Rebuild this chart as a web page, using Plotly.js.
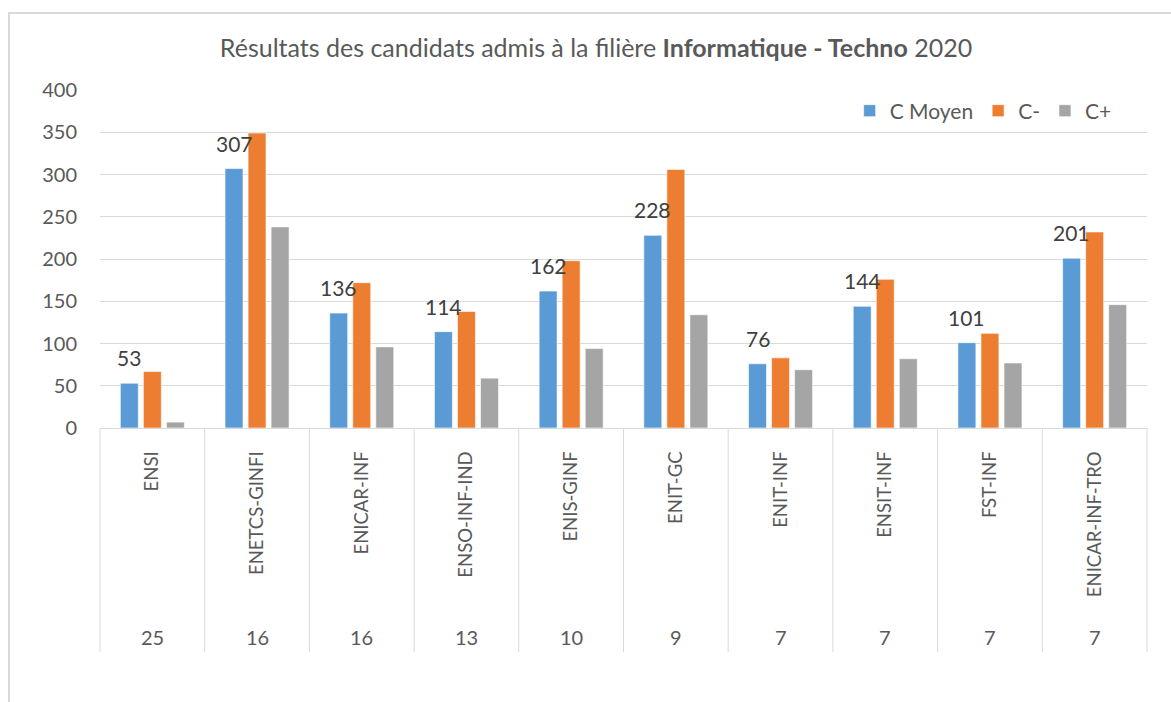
<!DOCTYPE html>
<html>
<head>
<meta charset="utf-8">
<script src="https://cdn.plot.ly/plotly-3.0.1.min.js"></script>
<style>
  html, body { margin: 0; padding: 0; background: #ffffff; }
  #wrap { position: relative; width: 1171px; height: 702px; overflow: hidden; }
  #chart { position: absolute; left: 0; top: 0; width: 1171px; height: 702px; }
  #frame { position: absolute; left: 8px; top: 12px; width: 1180px; height: 720px;
           border-left: 2px solid #d9d9d9; border-top: 2px solid #d9d9d9; pointer-events: none; }
</style>
</head>
<body>
<div id="wrap">
  <div id="chart"></div>
  <div id="frame"></div>
</div>
<script>
const categories = ['ENSI', 'ENETCS-GINFI', 'ENICAR-INF', 'ENSO-INF-IND', 'ENIS-GINF', 'ENIT-GC', 'ENIT-INF', 'ENSIT-INF', 'FST-INF', 'ENICAR-INF-TRO'];
const counts = [25, 16, 16, 13, 10, 9, 7, 7, 7, 7];
const cMoyen = [53, 307, 136, 114, 162, 228, 76, 144, 101, 201];
const cMinus = [67, 349, 172, 138, 198, 306, 83, 176, 112, 232];
const cPlus = [7, 238, 96, 59, 94, 134, 69, 82, 77, 146];
const seriesNames = ['C Moyen', 'C-', 'C+'];
const yTicks = [0, 50, 100, 150, 200, 250, 300, 350, 400];

const colors = ['#5B9BD5', '#ED7D31', '#A5A5A5'];
const txtColor = '#595959';
const font = 'Lato, "Open Sans", sans-serif';

const traces = [cMoyen, cMinus, cPlus].map((vals, k) => ({
  type: 'bar',
  name: seriesNames[k],
  x: categories,
  y: vals,
  marker: { color: colors[k], line: { color: 'rgba(255,255,255,0.6)', width: 1 } },
  hoverinfo: 'x+y+name'
}));

const bargap = 0.34;
const plotW = 1171 - 100 - 24;
const slot = (1 - bargap) * plotW / categories.length / 3;

const annotations = [];
categories.forEach((c, i) => {
  annotations.push({
    x: c, y: cMoyen[i], xref: 'x', yref: 'y',
    text: String(cMoyen[i]), showarrow: false,
    xshift: -slot, yanchor: 'bottom', yshift: 11,
    font: { family: font, size: 21, color: '#404040' }
  });
  annotations.push({
    x: c, y: 0, xref: 'x', yref: 'paper',
    text: String(counts[i]), showarrow: false,
    yanchor: 'middle', yshift: -209,
    font: { family: font, size: 20, color: txtColor }
  });
});

const plotH = 428 - 90;
const shapes = [];
for (let i = 0; i <= categories.length; i++) {
  shapes.push({
    type: 'line', xref: 'paper', yref: 'paper',
    x0: i / categories.length, x1: i / categories.length,
    y0: 0, y1: -(652 - 428) / plotH,
    line: { color: '#d9d9d9', width: 1 }
  });
}

const layout = {
  width: 1171, height: 702,
  margin: { l: 100, r: 24, t: 90, b: 274 },
  paper_bgcolor: '#ffffff', plot_bgcolor: '#ffffff',
  title: {
    text: 'Résultats des candidats admis à la filière <b>Informatique - Techno</b> 2020',
    font: { family: font, size: 25, color: txtColor },
    x: 0.509, xanchor: 'center', y: 1 - 48 / 702, yanchor: 'middle', yref: 'container'
  },
  barmode: 'group',
  bargap: bargap,
  bargroupgap: 0.22,
  showlegend: true,
  legend: {
    orientation: 'h', x: 0.971, xanchor: 'right', y: (428 - 111) / plotH, yanchor: 'middle',
    font: { family: font, size: 21, color: txtColor }, bgcolor: 'rgba(0,0,0,0)',
    traceorder: 'normal', itemwidth: 30
  },
  xaxis: {
    type: 'category',
    tickangle: -90,
    tickfont: { family: font, size: 18.5, color: txtColor },
    showline: true, linecolor: '#d9d9d9', linewidth: 1,
    ticks: '', ticklabelstandoff: 15,
    showgrid: false, zeroline: false, fixedrange: true
  },
  yaxis: {
    range: [0, 400],
    tickvals: yTicks,
    ticktext: yTicks.map(String),
    tickfont: { family: font, size: 20, color: txtColor },
    showgrid: true, gridcolor: '#d9d9d9', gridwidth: 1,
    zeroline: false, showline: false, ticks: '', ticklabelstandoff: 22,
    fixedrange: true
  },
  annotations: annotations,
  shapes: shapes
};

Plotly.newPlot('chart', traces, layout, { displayModeBar: false, staticPlot: true });
</script>
</body>
</html>
